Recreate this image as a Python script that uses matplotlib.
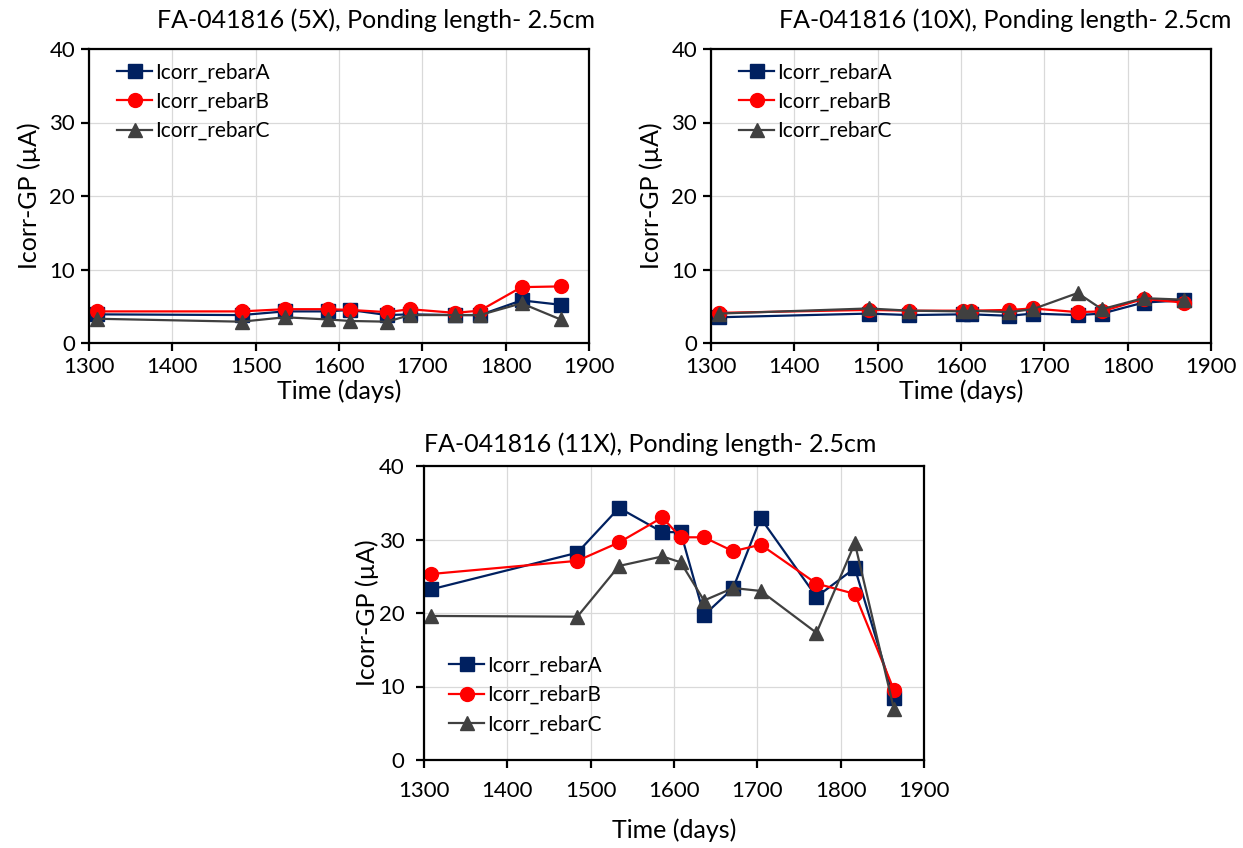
import matplotlib
matplotlib.use("Agg")
import matplotlib.pyplot as plt

plt.rcParams['font.family'] = ['Lato', 'DejaVu Sans']

# FA-041816 (5X)
days_5x = [1309, 1483, 1535, 1587, 1613, 1658, 1685, 1739, 1769, 1819, 1866]
a_5x = [3.9, 3.8, 4.3, 4.3, 4.5, 3.8, 3.9, 3.8, 3.8, 5.8, 5.2]
b_5x = [4.3, 4.3, 4.6, 4.6, 4.5, 4.2, 4.6, 4.1, 4.4, 7.6, 7.7]
c_5x = [3.3, 2.9, 3.5, 3.2, 3.0, 2.9, 3.8, 3.8, 3.8, 5.4, 3.2]

# FA-041816 (10X)
days_10x = [1309, 1489, 1538, 1602, 1612, 1658, 1686, 1740, 1769, 1819, 1867]
a_10x = [3.5, 4.0, 3.8, 3.9, 3.9, 3.7, 4.0, 3.8, 4.0, 5.5, 5.8]
b_10x = [4.1, 4.5, 4.4, 4.4, 4.4, 4.5, 4.7, 4.2, 4.3, 6.0, 5.5]
c_10x = [4.0, 4.7, 4.4, 4.3, 4.4, 4.2, 4.6, 6.8, 4.6, 6.1, 5.9]

# FA-041816 (11X)
days_11x = [1308, 1484, 1534, 1586, 1608, 1636, 1671, 1704, 1771, 1817, 1864]
a_11x = [23.2, 28.2, 34.3, 31.0, 31.0, 19.7, 23.4, 32.9, 22.2, 26.1, 8.5]
b_11x = [25.3, 27.1, 29.6, 33.0, 30.3, 30.3, 28.4, 29.3, 24.0, 22.6, 9.5]
c_11x = [19.6, 19.5, 26.4, 27.7, 26.9, 21.7, 23.4, 23.0, 17.3, 29.5, 6.9]

fig = plt.figure(figsize=(12.43, 8.48), dpi=100)

W, H = 1243, 848
def box(l, t):
    # axes 500 x 294 px, given left / top in pixels
    return [l / W, 1 - (t + 294) / H, 500 / W, 294 / H]

# position, data, title, title x/y, legend anchor, pads (xtick, xlabel, ytick, ylabel)
panels = [
    (box(89, 49), days_5x, a_5x, b_5x, c_5x, 'FA-041816 (5X), Ponding length- 2.5cm',
     (0.574, 1.099), (0.056, 0.955), (4, 2, 4, 6)),
    (box(711, 49), days_10x, a_10x, b_10x, c_10x, 'FA-041816 (10X), Ponding length- 2.5cm',
     (0.588, 1.099), (0.056, 0.955), (4, 2, 4, 6)),
    (box(424, 466), days_11x, a_11x, b_11x, c_11x, 'FA-041816 (11X), Ponding length- 2.5cm',
     (0.452, 1.075), (0.05, 0.355), (9, 13, 8, 0)),
]

for pos, d, a, b, c, title, tpos, lpos, pads in panels:
    ax = fig.add_axes(pos)
    ax.plot(d, a, color='#002060', marker='s', markersize=9.5, lw=1.6, label='Icorr_rebarA')
    ax.plot(d, b, color='#ff0000', marker='o', markersize=10, lw=1.6, label='Icorr_rebarB')
    ax.plot(d, c, color='#404040', marker='^', markersize=10, lw=1.6, label='Icorr_rebarC')
    ax.set_xlim(1300, 1900)
    ax.set_ylim(0, 40)
    ax.set_xticks(range(1300, 1901, 100))
    ax.set_yticks(range(0, 41, 10))
    ax.grid(True, color='#d9d9d9', lw=0.9)
    ax.set_axisbelow(True)
    for s in ax.spines.values():
        s.set_linewidth(1.6)
        s.set_color('black')
    ax.tick_params(direction='out', length=6, width=1.6, labelsize=16)
    ax.tick_params(axis='x', pad=pads[0])
    ax.tick_params(axis='y', pad=pads[2])
    ax.set_xlabel('Time (days)', fontsize=18, labelpad=pads[1])
    ax.set_ylabel('Icorr-GP (\u00b5A)', fontsize=18, labelpad=pads[3])
    ax.text(tpos[0], tpos[1], title, transform=ax.transAxes, fontsize=18,
            ha='center', va='center')
    ax.legend(loc='upper left', bbox_to_anchor=lpos, frameon=False, fontsize=15,
              borderaxespad=0, borderpad=0, handlelength=1.7, handletextpad=0.15,
              labelspacing=0.45)

fig.savefig('out.png', dpi=100)
